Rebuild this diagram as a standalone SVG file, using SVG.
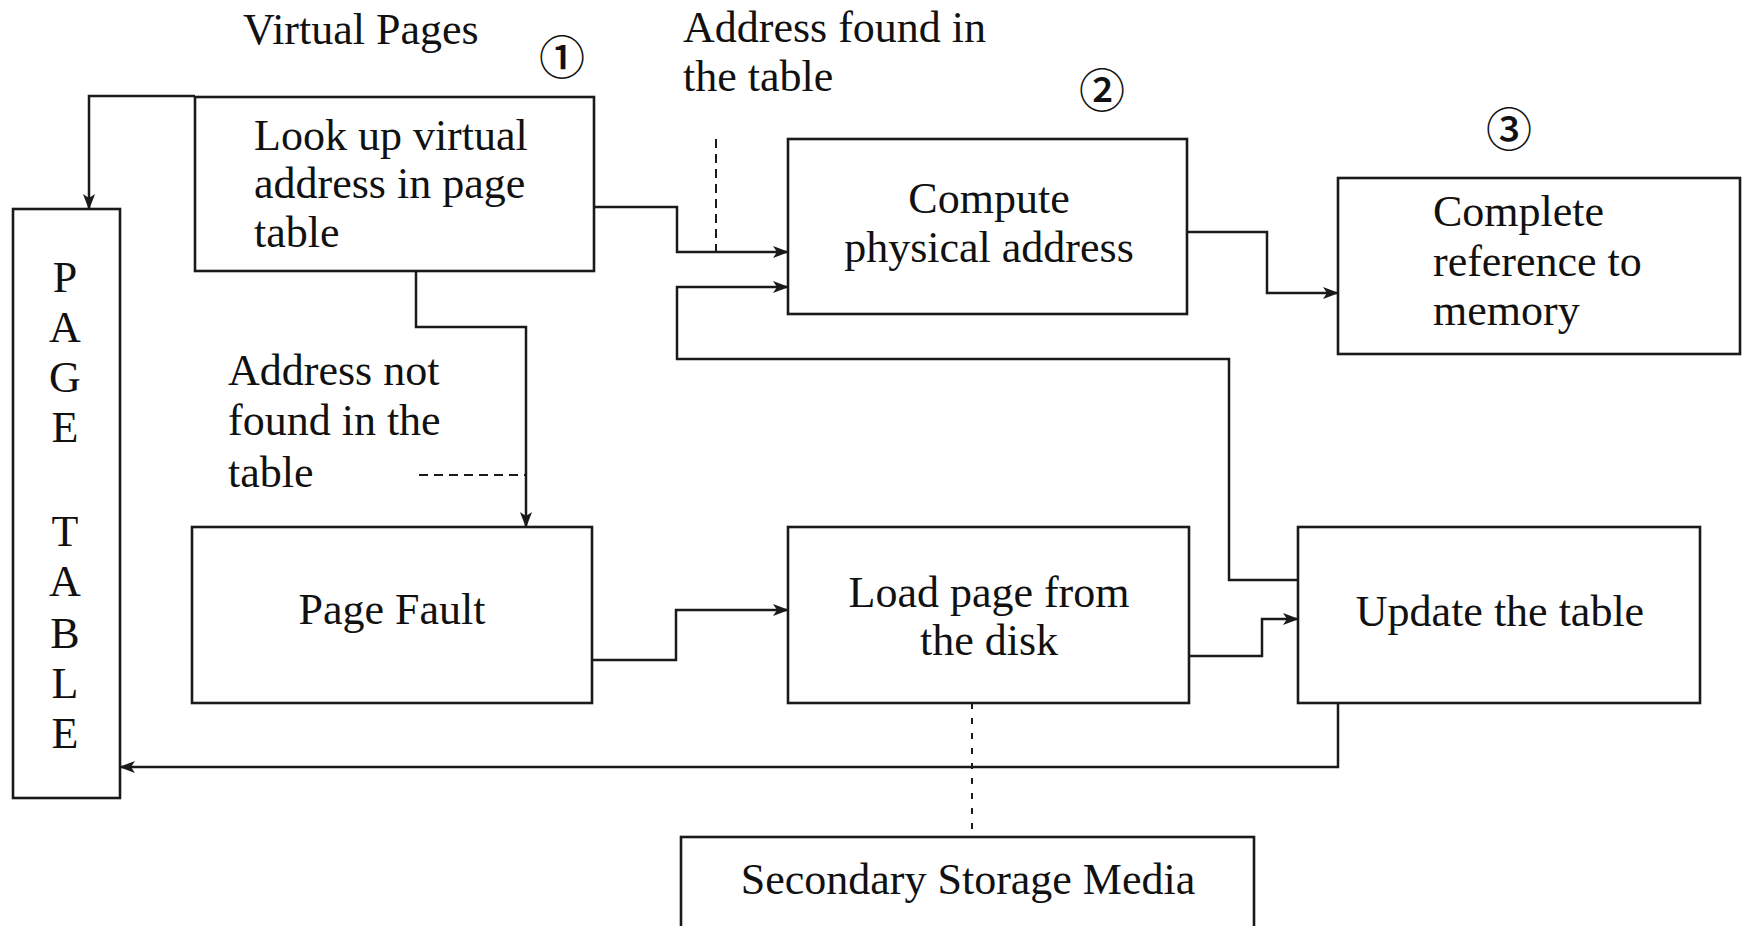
<svg xmlns="http://www.w3.org/2000/svg" width="1746" height="926" viewBox="0 0 1746 926">
  <style>
    .box { fill: #fff; stroke: #1a1a1a; stroke-width: 2.6; }
    .txt { font-family: "Liberation Serif", "Times New Roman", serif; font-size: 44px; fill: #111; }
    .mid { text-anchor: middle; }
    .num { font-family: "Noto Sans CJK SC", "DejaVu Sans", sans-serif; font-size: 46px; font-weight: 500; fill: #111; text-anchor: middle; dominant-baseline: central; }
    .wire { fill: none; stroke: #1a1a1a; stroke-width: 2.5; }
    .dash { fill: none; stroke: #1a1a1a; stroke-width: 2; stroke-dasharray: 9 6; }
    .dot { fill: none; stroke: #1a1a1a; stroke-width: 2; stroke-dasharray: 6 9; }
  </style>
  <defs>
    <marker id="arrow" viewBox="0 0 16 12" refX="15" refY="6" markerWidth="16" markerHeight="12" markerUnits="userSpaceOnUse" orient="auto">
      <path d="M0,0 L16,6 L0,12 L4,6 Z" fill="#1a1a1a"/>
    </marker>
  </defs>
  <rect width="1746" height="926" fill="#fff"/>

  <!-- free labels -->
  <text class="txt" x="243" y="44">Virtual Pages</text>
  <text class="num" x="562" y="54">①</text>
  <text class="txt" x="683" y="42">Address found in</text>
  <text class="txt" x="683" y="91">the table</text>
  <text class="num" x="1102" y="87">②</text>
  <text class="num" x="1509" y="126">③</text>
  <text class="txt" x="228" y="385">Address not</text>
  <text class="txt" x="228" y="435">found in the</text>
  <text class="txt" x="228" y="487">table</text>

  <!-- connectors -->
  <g id="connectors">
    <path class="wire" d="M195,96 H89 V209" marker-end="url(#arrow)"/>
    <path class="wire" d="M594,207 H677 V252 H788" marker-end="url(#arrow)"/>
    <path class="dash" d="M716,139 V254"/>
    <path class="wire" d="M1298,580 H1229 V359 H677 V287 H788" marker-end="url(#arrow)"/>
    <path class="wire" d="M1187,232 H1267 V293 H1338" marker-end="url(#arrow)"/>
    <path class="wire" d="M416,271 V327 H526 V527" marker-end="url(#arrow)"/>
    <path class="dash" d="M419,475 H526"/>
    <path class="wire" d="M592,660 H676 V610 H788" marker-end="url(#arrow)"/>
    <path class="wire" d="M1189,656 H1262 V619 H1298" marker-end="url(#arrow)"/>
    <path class="wire" d="M1338,703 V767 H120" marker-end="url(#arrow)"/>
    <path class="dot" d="M972,703 V837"/>
  </g>

  <g id="page-table">
    <rect class="box" x="13" y="209" width="107" height="589"/>
    <text class="txt mid" x="65" y="292">P</text>
    <text class="txt mid" x="65" y="342">A</text>
    <text class="txt mid" x="65" y="392">G</text>
    <text class="txt mid" x="65" y="442">E</text>
    <text class="txt mid" x="65" y="546">T</text>
    <text class="txt mid" x="65" y="596">A</text>
    <text class="txt mid" x="65" y="648">B</text>
    <text class="txt mid" x="65" y="698">L</text>
    <text class="txt mid" x="65" y="748">E</text>
  </g>

  <g id="lookup">
    <rect class="box" x="195" y="97" width="399" height="174"/>
    <text class="txt" x="254" y="150">Look up virtual</text>
    <text class="txt" x="254" y="198">address in page</text>
    <text class="txt" x="254" y="247">table</text>
  </g>

  <g id="compute">
    <rect class="box" x="788" y="139" width="399" height="175"/>
    <text class="txt mid" x="989" y="213">Compute</text>
    <text class="txt mid" x="989" y="262">physical address</text>
  </g>

  <g id="complete">
    <rect class="box" x="1338" y="178" width="402" height="176"/>
    <text class="txt" x="1433" y="226">Complete</text>
    <text class="txt" x="1433" y="276">reference to</text>
    <text class="txt" x="1433" y="325">memory</text>
  </g>

  <g id="page-fault">
    <rect class="box" x="192" y="527" width="400" height="176"/>
    <text class="txt mid" x="392" y="624">Page Fault</text>
  </g>

  <g id="load-page">
    <rect class="box" x="788" y="527" width="401" height="176"/>
    <text class="txt mid" x="989" y="607">Load page from</text>
    <text class="txt mid" x="989" y="655">the disk</text>
  </g>

  <g id="update">
    <rect class="box" x="1298" y="527" width="402" height="176"/>
    <text class="txt mid" x="1500" y="626">Update the table</text>
  </g>

  <g id="storage">
    <rect class="box" x="681" y="837" width="573" height="95"/>
    <text class="txt mid" x="968" y="894">Secondary Storage Media</text>
  </g>
</svg>
